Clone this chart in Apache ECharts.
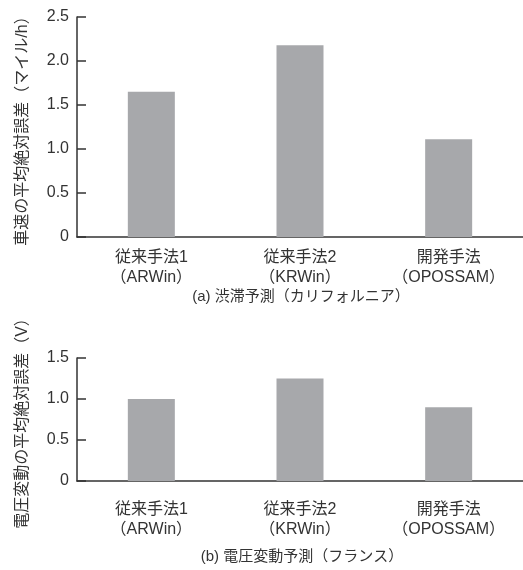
<!DOCTYPE html>
<html>
<head>
<meta charset="utf-8">
<script src="https://cdn.jsdelivr.net/npm/echarts@6/dist/echarts.min.js"></script>
<style>
  html, body { margin: 0; padding: 0; background: #fff; }
  #chart { width: 523px; height: 570px; }
</style>
</head>
<body>
<div id="chart"></div>
<script>
// categories shared by both panels
var categories = ['従来手法1\n（ARWin）', '従来手法2\n（KRWin）', '開発手法\n（OPOSSAM）'];
// (a) congestion forecast, California
var speedError = [1.65, 2.18, 1.11];
var speedTicks = [0, 0.5, 1.0, 1.5, 2.0, 2.5];
// (b) voltage fluctuation forecast, France
var voltError = [1.0, 1.25, 0.9];
var voltTicks = [0, 0.5, 1.0, 1.5];

var captionA = '(a) 渋滞予測（カリフォルニア）';
var captionB = '(b) 電圧変動予測（フランス）';
var nameA = '車速の平均絶対誤差（マイル/h）';
var nameB = '電圧変動の平均絶対誤差（V）';

var FONT = '"Liberation Sans", "Noto Sans CJK JP", sans-serif';
var TEXT = '#333';
var BAR = '#a7a8ab';

function yAxis(idx, ticks, name) {
  return {
    type: 'value',
    gridIndex: idx,
    min: ticks[0],
    max: ticks[ticks.length - 1],
    interval: 0.5,
    name: name,
    nameLocation: 'middle',
    nameRotate: 90,
    nameGap: 46,
    nameTextStyle: { color: TEXT, fontSize: 16, fontFamily: FONT },
    axisLine: { show: true, lineStyle: { color: TEXT, width: 1.5 } },
    axisTick: { show: true, inside: true, length: 9, lineStyle: { color: TEXT, width: 1.5 } },
    axisLabel: {
      color: TEXT, fontSize: 16, fontFamily: FONT, margin: 8,
      formatter: function (v) { return v === 0 ? '0' : v.toFixed(1); }
    },
    splitLine: { show: false }
  };
}

function xAxis(idx, margin) {
  return {
    type: 'category',
    gridIndex: idx,
    data: categories,
    axisLine: { lineStyle: { color: TEXT, width: 1.5 } },
    axisTick: { show: false },
    axisLabel: { color: TEXT, fontSize: 16, fontFamily: FONT, lineHeight: 20, margin: margin }
  };
}

var myChart = echarts.init(document.getElementById('chart'));
myChart.setOption({
  animation: false,
  grid: [
    { left: 77, top: 17, width: 447, height: 220 },
    { left: 77, top: 358, width: 447, height: 123 }
  ],
  xAxis: [xAxis(0, 11), xAxis(1, 19)],
  yAxis: [yAxis(0, speedTicks, nameA), yAxis(1, voltTicks, nameB)],
  series: [
    { type: 'bar', xAxisIndex: 0, yAxisIndex: 0, data: speedError, barWidth: 47, itemStyle: { color: BAR } },
    { type: 'bar', xAxisIndex: 1, yAxisIndex: 1, data: voltError, barWidth: 47, itemStyle: { color: BAR } }
  ],
  graphic: [
    { type: 'text', x: 301, y: 297, style: { text: captionA, fill: TEXT, font: '15px ' + FONT, textAlign: 'center', textVerticalAlign: 'middle' } },
    { type: 'text', x: 302, y: 557, style: { text: captionB, fill: TEXT, font: '15px ' + FONT, textAlign: 'center', textVerticalAlign: 'middle' } }
  ]
});
</script>
</body>
</html>
